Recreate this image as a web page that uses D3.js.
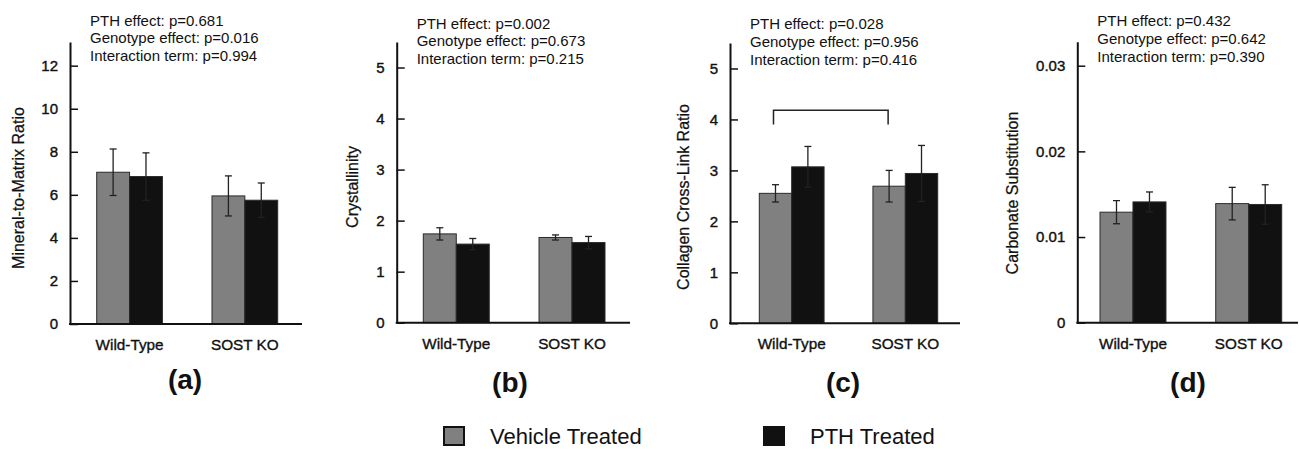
<!DOCTYPE html>
<html>
<head>
<meta charset="utf-8">
<script src="https://cdn.jsdelivr.net/npm/d3@7"></script>
<style>
  body { margin: 0; background: #fff; }
  svg { display: block; font-family: "Liberation Sans", Arial, sans-serif; }
</style>
</head>
<body>
<div id="vis"></div>
<script>
// data
const GROUPS = ["Wild-Type", "SOST KO"];
const SERIES = ["Vehicle Treated", "PTH Treated"];

const MMR_VEHICLE = [7.05, 5.95];
const MMR_PTH = [6.85, 5.75];
const MMR_VEHICLE_ERR = [1.08, 0.93];
const MMR_PTH_ERR = [1.10, 0.80];
const MMR_TICKS = [0, 2, 4, 6, 8, 10, 12];
const MMR_NOTES = ["PTH effect: p=0.681", "Genotype effect: p=0.016", "Interaction term: p=0.994"];

const CRYST_VEHICLE = [1.74, 1.67];
const CRYST_PTH = [1.54, 1.57];
const CRYST_VEHICLE_ERR = [0.12, 0.05];
const CRYST_PTH_ERR = [0.11, 0.12];
const CRYST_TICKS = [0, 1, 2, 3, 4, 5];
const CRYST_NOTES = ["PTH effect: p=0.002", "Genotype effect: p=0.673", "Interaction term: p=0.215"];

const XLR_VEHICLE = [2.55, 2.69];
const XLR_PTH = [3.07, 2.94];
const XLR_VEHICLE_ERR = [0.17, 0.31];
const XLR_PTH_ERR = [0.40, 0.55];
const XLR_TICKS = [0, 1, 2, 3, 4, 5];
const XLR_NOTES = ["PTH effect: p=0.028", "Genotype effect: p=0.956", "Interaction term: p=0.416"];
const XLR_BRACKET = [4.18, 3.90]; // top of bracket, end of legs

const CARB_VEHICLE = [0.0129, 0.0139];
const CARB_PTH = [0.0141, 0.0138];
const CARB_VEHICLE_ERR = [0.00135, 0.0019];
const CARB_PTH_ERR = [0.00116, 0.0023];
const CARB_TICKS = [0, 0.01, 0.02, 0.03];
const CARB_NOTES = ["PTH effect: p=0.432", "Genotype effect: p=0.642", "Interaction term: p=0.390"];

const COLORS = {"Vehicle Treated": "#808080", "PTH Treated": "#111111"};

const WIDTH = 1299, HEIGHT = 449;

const SVG = d3.select("#vis")
  .append("svg")
    .attr("width", WIDTH)
    .attr("height", HEIGHT);

// panel layout (pixels)
const PANELS = [
  {ax: 70, x1: 96.7, x2: 277.7, xEnd: 302, base: 324, top: 42, yMax: 13.1,
   ticks: MMR_TICKS, fmt: d3.format("d"), label: "Mineral-to-Matrix Ratio",
   labelX: 18, labelY: 188, noteY: 25.5, letter: "(a)", letterX: 185, letterY: 389,
   veh: MMR_VEHICLE, pth: MMR_PTH, vehErr: MMR_VEHICLE_ERR, pthErr: MMR_PTH_ERR, notes: MMR_NOTES},
  {ax: 396.7, x1: 423.3, x2: 605, xEnd: 630, base: 322.7, top: 42, yMax: 5.5,
   ticks: CRYST_TICKS, fmt: d3.format("d"), label: "Crystallinity",
   labelX: 352, labelY: 187, noteY: 28.5, letter: "(b)", letterX: 510, letterY: 392,
   veh: CRYST_VEHICLE, pth: CRYST_PTH, vehErr: CRYST_VEHICLE_ERR, pthErr: CRYST_PTH_ERR, notes: CRYST_NOTES},
  {ax: 730, x1: 759.3, x2: 937.7, xEnd: 960, base: 323.3, top: 43, yMax: 5.5,
   ticks: XLR_TICKS, fmt: d3.format("d"), label: "Collagen Cross-Link Ratio",
   labelX: 683.5, labelY: 197, noteY: 29, letter: "(c)", letterX: 843, letterY: 392,
   veh: XLR_VEHICLE, pth: XLR_PTH, vehErr: XLR_VEHICLE_ERR, pthErr: XLR_PTH_ERR, notes: XLR_NOTES,
   bracket: XLR_BRACKET},
  {ax: 1077.3, x1: 1100, x2: 1281.7, xEnd: 1298, base: 322.7, top: 41.7, yMax: 0.0328,
   ticks: CARB_TICKS, fmt: (d) => d === 0 ? "0" : d3.format(".2f")(d), label: "Carbonate Substitution",
   labelX: 1012, labelY: 193, noteY: 26, letter: "(d)", letterX: 1188, letterY: 392,
   veh: CARB_VEHICLE, pth: CARB_PTH, vehErr: CARB_VEHICLE_ERR, pthErr: CARB_PTH_ERR, notes: CARB_NOTES}
];

PANELS.forEach((p) => {
  const g = SVG.append("g");

  const Y_SCALE = d3.scaleLinear()
                    .domain([0, p.yMax])
                    .range([p.base, p.top]);
  const X_SCALE = d3.scaleBand()
                    .domain(GROUPS)
                    .range([p.x1, p.x2])
                    .paddingInner(0.43);
  const S_SCALE = d3.scaleBand()
                    .domain(SERIES)
                    .range([0, X_SCALE.bandwidth()]);

  const rows = [];
  GROUPS.forEach((grp, i) => {
    rows.push({grp: grp, s: SERIES[0], v: p.veh[i], e: p.vehErr[i]});
    rows.push({grp: grp, s: SERIES[1], v: p.pth[i], e: p.pthErr[i]});
  });

  // bars
  g.selectAll("rect.bar")
    .data(rows)
    .enter()
    .append("rect")
      .attr("class", "bar")
      .attr("x", (d) => X_SCALE(d.grp) + S_SCALE(d.s))
      .attr("y", (d) => Y_SCALE(d.v))
      .attr("width", S_SCALE.bandwidth())
      .attr("height", (d) => Y_SCALE(0) - Y_SCALE(d.v))
      .attr("fill", (d) => COLORS[d.s])
      .attr("stroke", "#2a2a2a")
      .attr("stroke-width", 1);

  // error bars
  const cx = (d) => X_SCALE(d.grp) + S_SCALE(d.s) + S_SCALE.bandwidth() / 2;
  const err = g.selectAll("g.err")
    .data(rows)
    .enter()
    .append("g")
      .attr("class", "err")
      .attr("stroke", "#222")
      .attr("stroke-width", 1.3);
  err.append("line")
    .attr("x1", cx).attr("x2", cx)
    .attr("y1", (d) => Y_SCALE(d.v - d.e))
    .attr("y2", (d) => Y_SCALE(d.v + d.e));
  err.append("line")
    .attr("x1", (d) => cx(d) - 3.5).attr("x2", (d) => cx(d) + 3.5)
    .attr("y1", (d) => Y_SCALE(d.v + d.e))
    .attr("y2", (d) => Y_SCALE(d.v + d.e));
  err.append("line")
    .attr("x1", (d) => cx(d) - 3.5).attr("x2", (d) => cx(d) + 3.5)
    .attr("y1", (d) => Y_SCALE(d.v - d.e))
    .attr("y2", (d) => Y_SCALE(d.v - d.e));

  // y axis
  const yAxis = g.append("g")
    .attr("transform", "translate(" + p.ax + ",0)")
    .call(d3.axisLeft(Y_SCALE)
            .tickValues(p.ticks)
            .tickFormat(p.fmt)
            .tickSizeInner(-8)
            .tickSizeOuter(0)
            .tickPadding(12));
  yAxis.select(".domain").attr("stroke", "#111").attr("stroke-width", 2);
  yAxis.selectAll(".tick line").attr("stroke", "#111").attr("stroke-width", 1.5);
  yAxis.selectAll(".tick text")
    .attr("font-size", "15px")
    .attr("fill", "#111")
    .attr("stroke", "#111")
    .attr("stroke-width", 0.4)
    .attr("font-family", "Liberation Sans, Arial, sans-serif");

  // x axis baseline
  g.append("line")
    .attr("x1", p.ax - 1).attr("x2", p.xEnd)
    .attr("y1", Y_SCALE(0)).attr("y2", Y_SCALE(0))
    .attr("stroke", "#111")
    .attr("stroke-width", 2);

  const xAxis = g.append("g")
    .attr("transform", "translate(0," + Y_SCALE(0) + ")")
    .call(d3.axisBottom(X_SCALE).tickSize(0).tickPadding(15));
  xAxis.select(".domain").remove();
  xAxis.selectAll(".tick text")
    .attr("font-size", "15.3px")
    .attr("fill", "#111")
    .attr("stroke", "#111")
    .attr("stroke-width", 0.35)
    .attr("font-family", "Liberation Sans, Arial, sans-serif");

  // y label
  g.append("text")
    .attr("transform", "translate(" + p.labelX + "," + p.labelY + ") rotate(-90)")
    .attr("text-anchor", "middle")
    .attr("dy", "0.35em")
    .attr("font-size", "16px")
    .attr("fill", "#111")
    .attr("stroke", "#111")
    .attr("stroke-width", 0.25)
    .text(p.label);

  // statistics notes
  g.selectAll("text.note")
    .data(p.notes)
    .enter()
    .append("text")
      .attr("class", "note")
      .attr("x", p.ax + 20)
      .attr("y", (d, i) => p.noteY + i * 17.8)
      .attr("font-size", "15px")
      .attr("fill", "#111")
      .text((d) => d);

  // panel letter
  g.append("text")
    .attr("x", p.letterX)
    .attr("y", p.letterY)
    .attr("text-anchor", "middle")
    .attr("font-size", "28px")
    .attr("font-weight", "bold")
    .attr("fill", "#111")
    .text(p.letter);

  // significance bracket between vehicle bars
  if (p.bracket) {
    const bx1 = X_SCALE(GROUPS[0]) + S_SCALE(SERIES[0]) + S_SCALE.bandwidth() / 2 - 2;
    const bx2 = X_SCALE(GROUPS[1]) + S_SCALE(SERIES[0]) + S_SCALE.bandwidth() / 2 - 1;
    g.append("path")
      .attr("d", "M" + bx1 + "," + Y_SCALE(p.bracket[1]) +
                 "V" + Y_SCALE(p.bracket[0]) +
                 "H" + bx2 +
                 "V" + Y_SCALE(p.bracket[1]))
      .attr("fill", "none")
      .attr("stroke", "#222")
      .attr("stroke-width", 1.5);
  }
});

// legend
const LEGEND_X = [443, 763];
const legend = SVG.selectAll("g.legend")
  .data(SERIES)
  .enter()
  .append("g")
    .attr("class", "legend")
    .attr("transform", (d, i) => "translate(" + LEGEND_X[i] + ",426)");
legend.append("rect")
  .attr("x", 1).attr("y", 1)
  .attr("width", 20).attr("height", 18)
  .attr("fill", (d) => COLORS[d])
  .attr("stroke", "#111")
  .attr("stroke-width", 2);
legend.append("text")
  .attr("x", 47)
  .attr("y", 18)
  .attr("font-size", "22px")
  .attr("fill", "#111")
  .text((d) => d);
</script>
</body>
</html>
